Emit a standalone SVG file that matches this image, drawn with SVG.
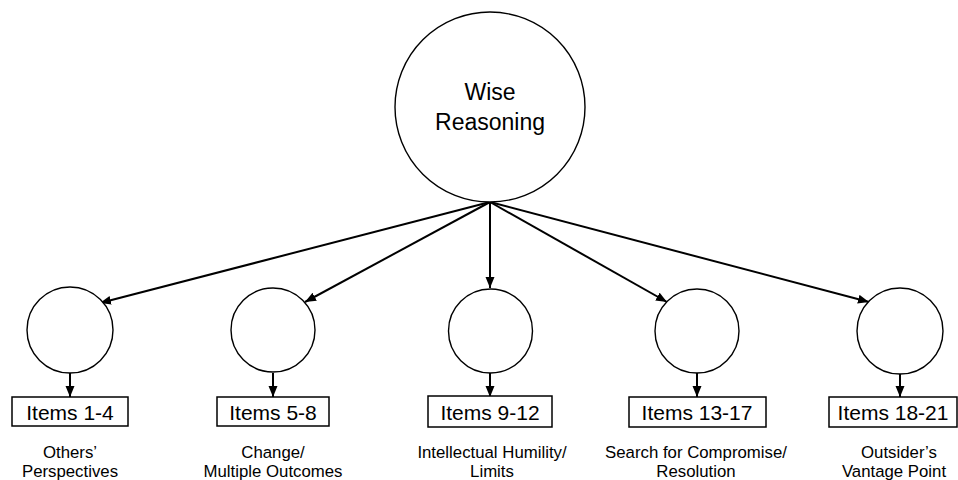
<svg xmlns="http://www.w3.org/2000/svg" width="958" height="480" viewBox="0 0 958 480">
<style>
.c{fill:#fff;stroke:#000;stroke-width:1.4}
.b{fill:#fff;stroke:#000;stroke-width:1.5}
.e{stroke:#000;stroke-width:2;fill:none}
text{font-family:"Liberation Sans",Arial,sans-serif;fill:#000;text-anchor:middle}
.t{font-size:21px}
.l{font-size:16.8px}
.h{font-size:23px}
</style>
<defs>
<marker id="ah" markerUnits="userSpaceOnUse" markerWidth="12" markerHeight="10" refX="11" refY="4.5" orient="auto">
<path d="M0,0 L11,4.5 L0,9 z" fill="#000"/>
</marker>
</defs>
<rect width="958" height="480" fill="#fff"/>
<g id="connectors">
<line class="e" x1="490" y1="202" x2="100" y2="303" marker-end="url(#ah)"/>
<line class="e" x1="490" y1="202" x2="305" y2="302" marker-end="url(#ah)"/>
<line class="e" x1="490" y1="202" x2="490" y2="288" marker-end="url(#ah)"/>
<line class="e" x1="490" y1="202" x2="667" y2="302" marker-end="url(#ah)"/>
<line class="e" x1="490" y1="202" x2="869" y2="302" marker-end="url(#ah)"/>
<line class="e" x1="70" y1="373" x2="70" y2="397" marker-end="url(#ah)"/>
<line class="e" x1="273" y1="373" x2="273" y2="397" marker-end="url(#ah)"/>
<line class="e" x1="490" y1="373" x2="490" y2="397" marker-end="url(#ah)"/>
<line class="e" x1="697" y1="373" x2="697" y2="397" marker-end="url(#ah)"/>
<line class="e" x1="900" y1="373" x2="900" y2="397" marker-end="url(#ah)"/>
</g>
<g id="wise">
<circle class="c" cx="490" cy="107" r="95"/>
<text class="h" x="490" y="100">Wise</text>
<text class="h" x="490" y="130">Reasoning</text>
</g>
<g id="f1"><circle class="c" cx="70" cy="330" r="43"/></g>
<g id="f2"><circle class="c" cx="273" cy="330" r="42"/></g>
<g id="f3"><circle class="c" cx="490.5" cy="331" r="42"/></g>
<g id="f4"><circle class="c" cx="697" cy="331" r="42"/></g>
<g id="f5"><circle class="c" cx="900" cy="331" r="43"/></g>
<g id="i1"><rect class="b" x="12" y="397" width="116" height="29"/><text class="t" x="70" y="420">Items 1-4</text></g>
<g id="i2"><rect class="b" x="217" y="397" width="112" height="29"/><text class="t" x="273" y="420">Items 5-8</text></g>
<g id="i3"><rect class="b" x="428" y="396" width="124" height="31"/><text class="t" x="490" y="420">Items 9-12</text></g>
<g id="i4"><rect class="b" x="629" y="397" width="137" height="30"/><text class="t" x="697" y="420">Items 13-17</text></g>
<g id="i5"><rect class="b" x="829" y="397" width="128" height="30"/><text class="t" x="893" y="420">Items 18-21</text></g>
<g id="labels">
<text class="l" x="70" y="458">Others’</text>
<text class="l" x="70" y="477">Perspectives</text>
<text class="l" x="273" y="458">Change/</text>
<text class="l" x="273" y="477">Multiple Outcomes</text>
<text class="l" x="492" y="458">Intellectual Humility/</text>
<text class="l" x="492" y="477">Limits</text>
<text class="l" x="696" y="458">Search for Compromise/</text>
<text class="l" x="696" y="477">Resolution</text>
<text class="l" x="899" y="458">Outsider’s</text>
<text class="l" x="894" y="477">Vantage Point</text>
</g>
</svg>
